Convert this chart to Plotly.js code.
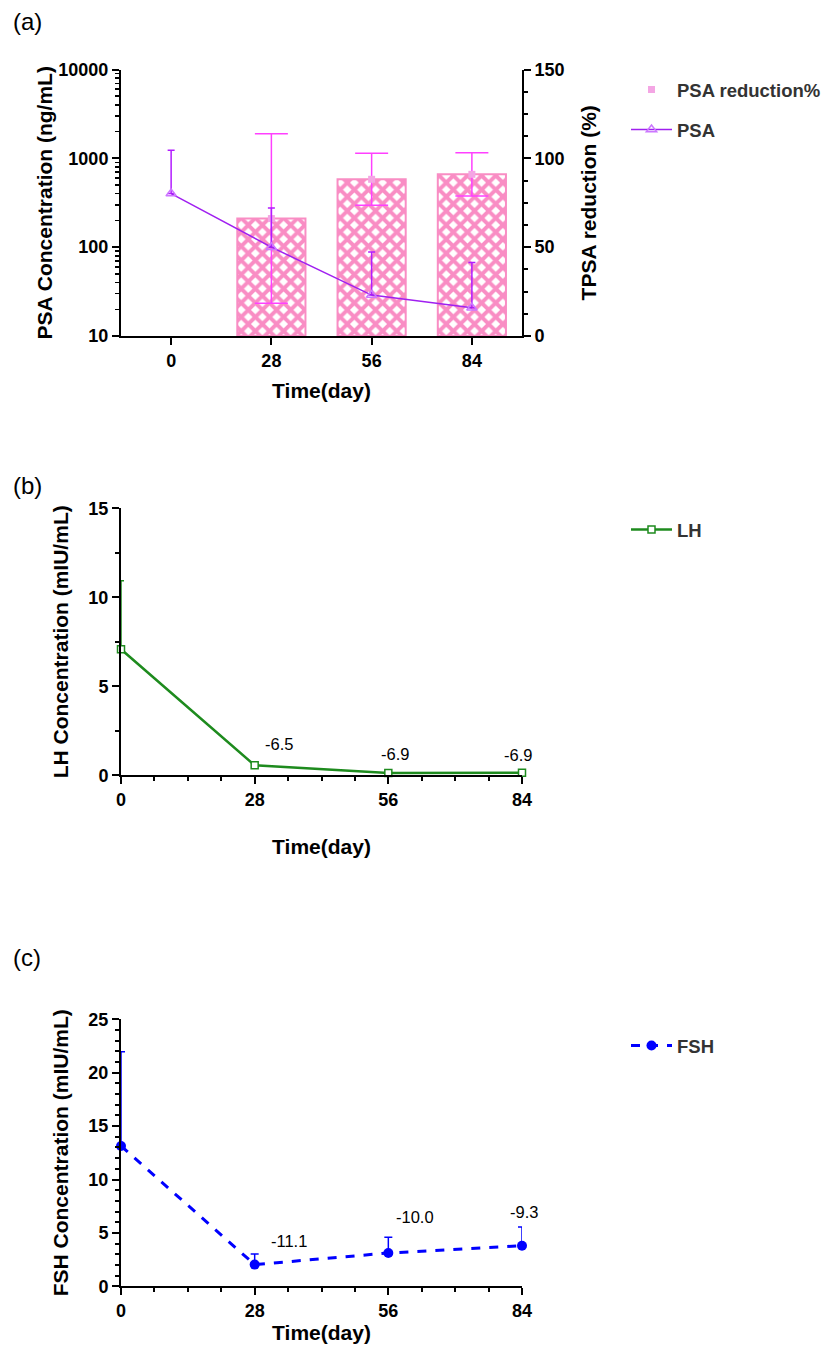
<!DOCTYPE html>
<html>
<head>
<meta charset="utf-8">
<script src="https://cdn.plot.ly/plotly-3.0.1.min.js"></script>
<style>
  html, body { margin: 0; padding: 0; background: #ffffff; }
  #chart { width: 828px; height: 1348px; }
</style>
</head>
<body>
<div id="chart"></div>
<script>
// ---------------- Data ----------------
const dayLabels = ['0', '28', '56', '84'];
const days = [0, 28, 56, 84];

// Panel (a)
const psaReduction = [null, 66.1, 88.2, 91.0];      // %
const psaReductionSD = [null, 47.7, 14.6, 12.2];
const psaConc = [401, 100, 28.9, 20.8];             // ng/mL
const psaConcSD = [829, 176, 59.6, 46.5];

// Panel (b)
const lh = [7.08, 0.56, 0.13, 0.15];                // mIU/mL
const lhSD = [3.85, 0.15, 0.05, 0.05];
const lhChange = ['-6.5', '-6.9', '-6.9'];

// Panel (c)
const fsh = [13.14, 2.03, 3.12, 3.80];              // mIU/mL
const fshSD = [8.83, 0.99, 1.47, 1.75];
const fshChange = ['-11.1', '-10.0', '-9.3'];

// ---------------- Styling helpers ----------------
const W = 828, H = 1348;
const FONT = 'Liberation Sans, Arial, sans-serif';
const px = v => v / W;
const py = v => 1 - v / H;
const tickFont = {family: FONT, size: 18, color: '#000', weight: 'bold'};
const titleFont = {family: FONT, size: 21, color: '#000', weight: 'bold'};
const legFont = {family: FONT, size: 18.5, color: '#333', weight: 'bold'};
const xDom = [px(121), px(522)];

const axisBase = {
  showline: true, linecolor: '#000', linewidth: 2,
  ticks: 'outside', ticklen: 7, tickwidth: 2, tickcolor: '#000',
  showgrid: false, zeroline: false, tickfont: tickFont, automargin: false,
  fixedrange: true
};
const zeros = a => a.map(() => 0);

const PINK = '#f98dc4';
const PSA_COL = '#a020f0';
const GREEN = '#1e8b1e';
const BLUE = '#0000ff';

// ---------------- Traces ----------------
const traces = [
  {
    type: 'bar', x: dayLabels, y: psaReduction, xaxis: 'x', yaxis: 'y',
    width: 0.68, showlegend: false, hoverinfo: 'skip',
    marker: {
      color: PINK, line: {color: PINK, width: 2},
      pattern: {shape: 'x', bgcolor: '#ffffff', fgcolor: PINK, size: 10, solidity: 0.62}
    }
  },
  {
    type: 'scatter', mode: 'markers', name: 'PSA reduction%', legend: 'legend',
    x: dayLabels, y: psaReduction, xaxis: 'x', yaxis: 'y',
    marker: {symbol: 'square', size: 7, color: '#f4a6e4'},
    error_y: {type: 'data', array: psaReductionSD, symmetric: true, color: '#ff40ff', thickness: 1.5, width: 16.5},
    cliponaxis: false
  },
  {
    type: 'scatter', mode: 'lines+markers', name: 'PSA', legend: 'legend2',
    x: dayLabels, y: psaConc, xaxis: 'x', yaxis: 'y2',
    line: {color: PSA_COL, width: 1.5},
    marker: {symbol: 'triangle-up-open', size: 9, color: '#cc77ff', line: {width: 1.5}},
    error_y: {type: 'data', array: psaConcSD, arrayminus: zeros(psaConcSD), symmetric: false, color: '#b21cff', thickness: 1.5, width: 3.5},
    cliponaxis: false
  },
  {
    type: 'scatter', mode: 'lines+markers', name: 'LH', legend: 'legend3',
    x: days, y: lh, xaxis: 'x2', yaxis: 'y3',
    line: {color: GREEN, width: 2.5},
    marker: {symbol: 'square', size: 7, color: '#ffffff', line: {color: GREEN, width: 1.5}},
    error_y: {type: 'data', array: lhSD, arrayminus: zeros(lhSD), symmetric: false, color: GREEN, thickness: 1.5, width: 3},
    cliponaxis: false
  },
  {
    type: 'scatter', mode: 'lines+markers', name: 'FSH', legend: 'legend4',
    x: days, y: fsh, xaxis: 'x3', yaxis: 'y4',
    line: {color: BLUE, width: 3, dash: 'dash'},
    marker: {symbol: 'circle', size: 10, color: BLUE},
    error_y: {type: 'data', array: fshSD, arrayminus: zeros(fshSD), symmetric: false, color: BLUE, thickness: 1.5, width: 4},
    cliponaxis: false
  }
];

// ---------------- Annotations ----------------
const annFont = {family: FONT, size: 16.5, color: '#000'};
const lhShift = [[24, 21], [7, 19], [-4, 18]];
const fshShift = [[34, 24], [27, 36], [2, 34]];
const annotations = [];
lhChange.forEach((t, i) => annotations.push({
  xref: 'x2', yref: 'y3', x: days[i + 1], y: lh[i + 1], text: t, showarrow: false,
  xshift: lhShift[i][0], yshift: lhShift[i][1], font: annFont
}));
fshChange.forEach((t, i) => annotations.push({
  xref: 'x3', yref: 'y4', x: days[i + 1], y: fsh[i + 1], text: t, showarrow: false,
  xshift: fshShift[i][0], yshift: fshShift[i][1], font: annFont
}));
const panelFont = {family: FONT, size: 24, color: '#000'};
[['(a)', 27, 22], ['(b)', 27, 485], ['(c)', 27, 958]].forEach(p => annotations.push({
  xref: 'paper', yref: 'paper', x: px(p[1]), y: py(p[2]), xanchor: 'center', yanchor: 'middle',
  text: p[0], showarrow: false, font: panelFont
}));

// ---------------- Legends ----------------
const legBase = {
  xanchor: 'left', yanchor: 'middle', orientation: 'v', bgcolor: 'rgba(0,0,0,0)',
  borderwidth: 0, font: legFont, itemwidth: 41, itemclick: false, itemdoubleclick: false
};
const legX = px(626);

// ---------------- Layout ----------------
const layout = {
  width: W, height: H,
  margin: {l: 0, r: 0, t: 0, b: 0, pad: 0},
  paper_bgcolor: '#ffffff', plot_bgcolor: 'rgba(0,0,0,0)',
  font: {family: FONT, color: '#000'},
  barmode: 'overlay',
  showlegend: true,
  legend: Object.assign({}, legBase, {x: legX, y: py(90)}),
  legend2: Object.assign({}, legBase, {x: legX, y: py(130)}),
  legend3: Object.assign({}, legBase, {x: legX, y: py(530)}),
  legend4: Object.assign({}, legBase, {x: legX, y: py(1046)}),

  // Panel (a)
  xaxis: Object.assign({}, axisBase, {
    domain: xDom, anchor: 'y', type: 'category', range: [-0.5, 3.5],
    title: {text: 'Time(day)', font: titleFont, standoff: 14}
  }),
  yaxis: Object.assign({}, axisBase, {
    domain: [py(336), py(69.5)], anchor: 'x', side: 'right', range: [0, 150],
    tickmode: 'array', tickvals: [0, 50, 100, 150],
    minor: {tickmode: 'linear', tick0: 0, dtick: 12.5, ticks: 'outside', ticklen: 4, tickwidth: 2, tickcolor: '#000'},
    title: {text: 'TPSA reduction (%)', font: titleFont, standoff: 18}
  }),
  yaxis2: Object.assign({}, axisBase, {
    overlaying: 'y', anchor: 'x', side: 'left', type: 'log', range: [1, 4],
    tickmode: 'array', tickvals: [10, 100, 1000, 10000], ticktext: ['10', '100', '1000', '10000'],
    minor: {
      tickmode: 'array',
      tickvals: [20, 30, 40, 50, 60, 70, 80, 90, 200, 300, 400, 500, 600, 700, 800, 900,
                 2000, 3000, 4000, 5000, 6000, 7000, 8000, 9000],
      ticks: 'outside', ticklen: 4, tickwidth: 1.5, tickcolor: '#000'
    },
    title: {text: 'PSA Concentration (ng/mL)', font: titleFont, standoff: 0}
  }),

  // Panel (b)
  xaxis2: Object.assign({}, axisBase, {
    domain: xDom, anchor: 'y3', range: [0, 84],
    tickmode: 'array', tickvals: days,
    minor: {tickmode: 'linear', tick0: 0, dtick: 7, ticks: 'outside', ticklen: 4, tickwidth: 2, tickcolor: '#000'},
    title: {text: 'Time(day)', font: titleFont, standoff: 30}
  }),
  yaxis3: Object.assign({}, axisBase, {
    domain: [py(775.3), py(508.3)], anchor: 'x2', range: [0, 15],
    tickmode: 'linear', tick0: 0, dtick: 5,
    minor: {tickmode: 'linear', tick0: 0, dtick: 2.5, ticks: 'outside', ticklen: 4, tickwidth: 2, tickcolor: '#000'},
    title: {text: 'LH Concentration (mIU/mL)', font: titleFont, standoff: 14}
  }),

  // Panel (c)
  xaxis3: Object.assign({}, axisBase, {
    domain: xDom, anchor: 'y4', range: [0, 84],
    tickmode: 'array', tickvals: days,
    minor: {tickmode: 'linear', tick0: 0, dtick: 7, ticks: 'outside', ticklen: 4, tickwidth: 2, tickcolor: '#000'},
    title: {text: 'Time(day)', font: titleFont, standoff: 5}
  }),
  yaxis4: Object.assign({}, axisBase, {
    domain: [py(1286.3), py(1019.3)], anchor: 'x3', range: [0, 25],
    tickmode: 'linear', tick0: 0, dtick: 5,
    minor: {tickmode: 'linear', tick0: 0, dtick: 1, ticks: 'outside', ticklen: 4, tickwidth: 2, tickcolor: '#000'},
    title: {text: 'FSH Concentration (mIU/mL)', font: titleFont, standoff: 14}
  }),

  annotations: annotations
};

Plotly.newPlot('chart', traces, layout, {staticPlot: true, displayModeBar: false});
</script>
</body>
</html>
